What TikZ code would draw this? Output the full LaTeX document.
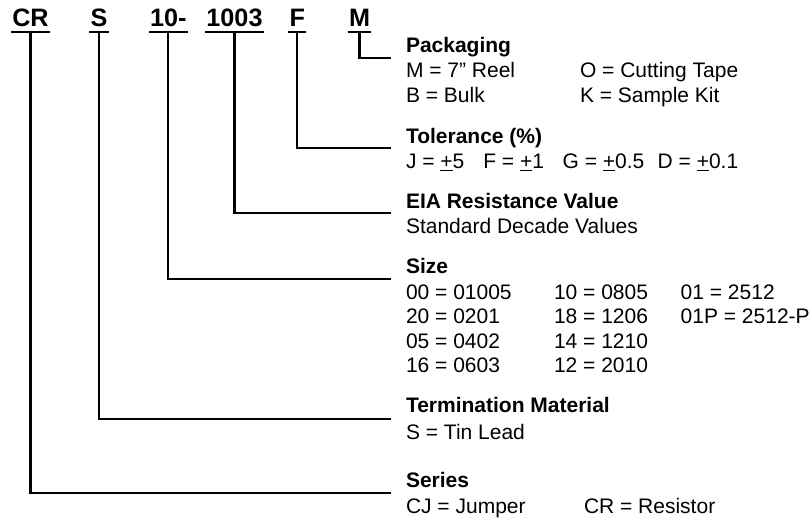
\documentclass[tikz,border=0pt]{standalone}
\usepackage{fontspec}
\setmainfont{Liberation Sans}
\usetikzlibrary{calc}
\begin{document}
\begin{tikzpicture}[x=1pt,y=-1pt,
  every node/.style={inner sep=0pt, outer sep=0pt},
  txt/.style={anchor=base west, font=\fontsize{21}{24}\selectfont},
  head/.style={anchor=base west, font=\fontsize{21}{24}\selectfont\bfseries},
  code/.style={anchor=base, font=\fontsize{25.2}{30}\selectfont\bfseries, inner xsep=1.3pt, inner ysep=0pt, text depth=5pt},
  uline/.style={line width=2.1pt},
  conn/.style={line width=2.1pt, line join=miter}
]
\useasboundingbox (0,0) rectangle (812,521);

% part number codes
\node[code] (cr)  at (30.5,26.7)  {CR};
\node[code] (s)   at (99,26.7)    {S};
\node[code] (sz)  at (168.3,26.7) {10-};
\node[code] (val) at (234.5,26.7) {1003};
\node[code] (f)   at (297.3,26.7) {F};
\node[code] (m)   at (359.5,26.7) {M};
\foreach \n in {cr,s,sz,val,f,m}
  \draw[uline] (\n.south west) -- (\n.south east);

% Packaging
\node[head] (pkg) at (406,52.7) {Packaging};
\node[txt] (pkg1) at (406,78) {M = 7” Reel};
\node[txt] (pkg2) at (580,78) {O = Cutting Tape};
\node[txt] (pkg3) at (406,102.5) {B = Bulk};
\node[txt] (pkg4) at (580,102.5) {K = Sample Kit};

% Tolerance
\node[head] (tol) at (406,143.3) {Tolerance (\%)};
\node[txt] (tol1) at (406,169) {J = \underline{+}5};
\node[txt] (tol2) at (483.3,169) {F = \underline{+}1};
\node[txt] (tol3) at (562.7,169) {G = \underline{+}0.5};
\node[txt] (tol4) at (657.7,169) {D = \underline{+}0.1};

% EIA
\node[head] (eia) at (406,208.3) {EIA Resistance Value};
\node[txt] (eia1) at (406,233.3) {Standard Decade Values};

% Size
\node[head] (size) at (406,274) {Size};
\node[txt] at (406,299.3) {00 = 01005};
\node[txt] at (554,299.3) {10 = 0805};
\node[txt] at (680.7,299.3) {01 = 2512};
\node[txt] at (406,323.8) {20 = 0201};
\node[txt] at (554,323.8) {18 = 1206};
\node[txt] at (680.7,323.8) {01P = 2512-P};
\node[txt] at (406,348.3) {05 = 0402};
\node[txt] at (554,348.3) {14 = 1210};
\node[txt] at (406,372.7) {16 = 0603};
\node[txt] at (554,372.7) {12 = 2010};

% Termination
\node[head] (term) at (406,412.7) {Termination Material};
\node[txt] (term1) at (406,439.3) {S = Tin Lead};

% Series
\node[head] (ser) at (406,487.3) {Series};
\node[txt] (ser1) at (406,513.3) {CJ = Jumper};
\node[txt] (ser2) at (584,513.3) {CR = Resistor};

% connectors
\draw[conn] (m.south)   |- ($(pkg.base west)+(-15,5)$);
\draw[conn] (f.south)   |- ($(tol.base west)+(-15,5)$);
\draw[conn] (val.south) |- ($(eia.base west)+(-15,5)$);
\draw[conn] (sz.south)  |- ($(size.base west)+(-15,5)$);
\draw[conn] (s.south)   |- ($(term.base west)+(-15,6)$);
\draw[conn] (cr.south)  |- ($(ser.base west)+(-15,6)$);
\end{tikzpicture}
\end{document}
